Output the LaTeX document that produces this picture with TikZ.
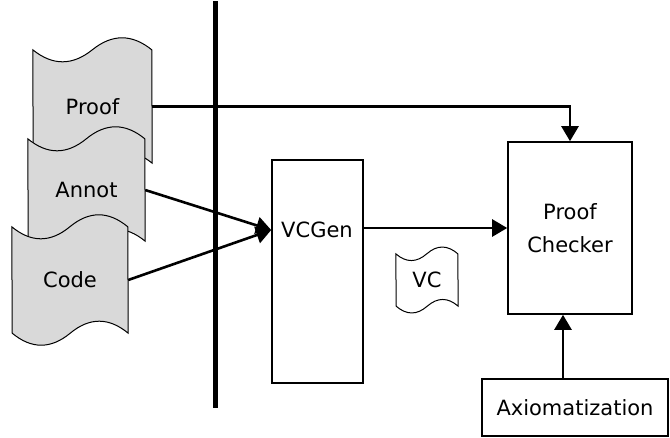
\documentclass[tikz,border=0pt]{standalone}
\usepackage{fontspec}
\setmainfont{DejaVu Sans}
\usepackage{tikz}
\usetikzlibrary{arrows.meta,calc,positioning,backgrounds}
\definecolor{docgray}{HTML}{D9D9D9}
\newcommand{\diagfont}{\fontsize{21}{33}\selectfont}
\tikzset{
  doc/.style={inner sep=0pt,font=\diagfont},
  docline/.style={draw=black,line width=1pt,fill=docgray},
  stagebox/.style={draw=black,line width=1.6pt,fill=white,inner sep=0pt},
  flow/.style={-{Triangle[length=15pt,width=17pt]},line width=2.6pt},
  barrier/.style={line width=5pt}
}

\begin{document}
\begin{tikzpicture}[x=1pt,y=-1pt,font=\diagfont]
\useasboundingbox (0,0) rectangle (670,437);
\draw[barrier] (215.5,1) coordinate (bartop) -- (215.5,408) coordinate (barbot);
% documents on the producer side
\node[doc,minimum width=119pt,minimum height=113pt] (proof) at (92.5,106.5) {Proof};
\node[doc,minimum width=117pt,minimum height=102pt] (annot) at (86.5,190) {Annot};
\node[doc,minimum width=116pt,minimum height=106pt] (code) at (70,280) {Code};
\node[doc,minimum width=62pt,minimum height=52pt] (vc) at (427,280) {VC};
\begin{scope}[on background layer]
\foreach \d/\w/\a/\f in {proof/119/16/docgray,annot/117/16/docgray,code/116/16/docgray,vc/62/9/white}{
  \draw[docline,fill=\f] (\d.north west)
    .. controls +(\w/6,\a) and +(-\w/6,\a) .. ++(\w/2,0)
    .. controls +(\w/6,-\a) and +(-\w/6,-\a) .. ++(\w/2,0)
    -- (\d.south east)
    .. controls +(-\w/6,-\a) and +(\w/6,-\a) .. ++(-\w/2,0)
    .. controls +(-\w/6,\a) and +(\w/6,\a) .. ++(-\w/2,0)
    -- cycle;
}
\end{scope}
% consumer side
\node[stagebox,minimum width=91pt,minimum height=223pt] (vcgen) at (317.5,271.5) {};
\node (vclabel) at (317,230) {VCGen};
\node[stagebox,minimum width=124pt,minimum height=172pt,align=center] (checker) at (570,228) {Proof\\Checker};
\node[stagebox,minimum width=186pt,minimum height=57pt] (axiom) at (575,407.5) {Axiomatization};
% flows
\draw[flow] (proof.east) -| (checker.north);
\draw[flow] (annot.east) -- (vcgen.west |- vclabel);
\draw[flow] (code.east) -- (vcgen.west |- vclabel);
\draw[flow] (vcgen.east |- checker.west) -- (checker.west);
\draw[flow] ([xshift=-12pt]axiom.north) -- ([xshift=-12pt]axiom.north |- checker.south);
\end{tikzpicture}
\end{document}
